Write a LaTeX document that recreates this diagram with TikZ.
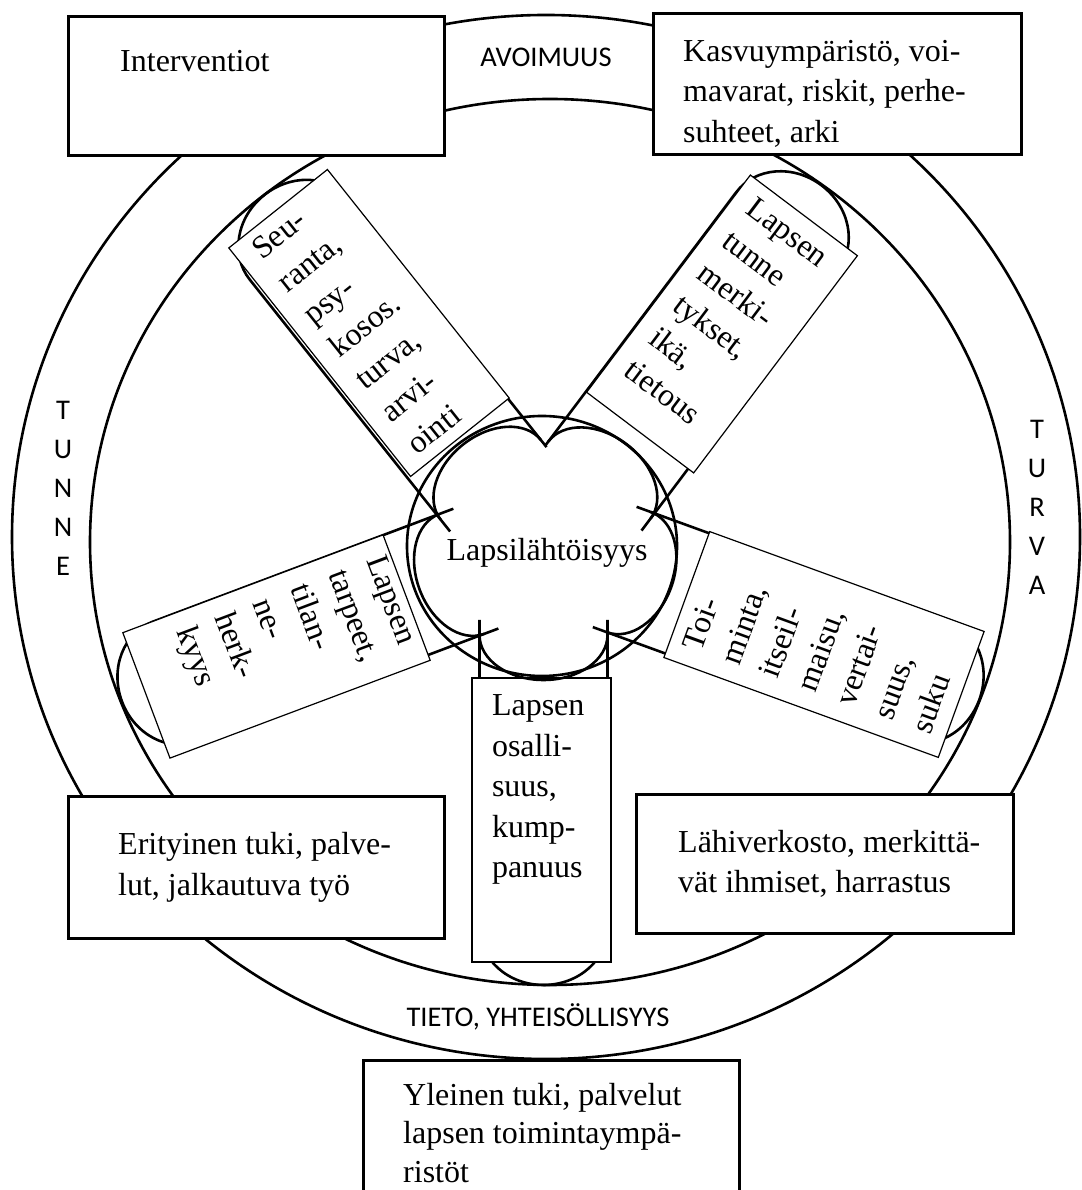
\documentclass[tikz,border=0pt]{standalone}
\usepackage{fontspec}
\setmainfont{Liberation Serif}
\newfontfamily\capsfont{Carlito}
\usetikzlibrary{calc}
\begin{document}
\begin{tikzpicture}[x=1pt, y=1pt,
  ring/.style={line width=2.6pt},
  infobox/.style={draw, line width=2.6pt, fill=white, inner sep=0pt, anchor=north west},
  spokebox/.style={draw, line width=1.2pt, fill=white, inner sep=0pt},
  txt/.style={inner sep=0pt, align=left, font=\fontsize{32}{40.5}\selectfont},
  spoketext/.style={txt, text width=#1pt, anchor=north},
  caps/.style={inner sep=0pt, align=center, font=\capsfont\fontsize{28.5}{39}\selectfont}]
\useasboundingbox (0,0) rectangle (1081,1190);
\draw[ring] (546,653) ellipse [x radius=534, y radius=522];
\draw[ring] (550,648) ellipse [x radius=460, y radius=443];
\coordinate (mid) at (545,642);
\foreach \a/\d/\sl/\sr/\o in {270/437/72/72/-1.5, 340/460/72/72/6, 53/456/82/72/-2.6, 128.5/451/72/78/0, 200.6/450/72/72/-5}
  \draw[ring, shift={(mid)}, rotate=\a] (\sl,64+\o) -- (\d-57,64+\o)
    arc[start angle=90, end angle=-90, x radius=57, y radius=64] -- (\sr,-64+\o);
\node[spokebox, rotate=38.5, minimum width=126pt, minimum height=292pt] (seuranta) at (369,867) {};
\node[spokebox, rotate=-37, minimum width=134pt, minimum height=272pt] (merkit) at (722,866) {};
\node[spokebox, rotate=-69.4, minimum width=134pt, minimum height=278pt] (tarpeet) at (276.5,543.5) {};
\node[spokebox, rotate=70, minimum width=134pt, minimum height=292pt] (toiminta) at (824,545.5) {};
\node[spokebox, minimum width=139pt, minimum height=284pt] (osallisuus) at (541.5,370) {};
\node[spoketext=90, rotate=38.5, font=\fontsize{32}{41.5}\selectfont] at ($(seuranta.north)!10pt!(seuranta.south)$) {Seu-\\ranta,\\psy-\\kosos.\\turva,\\arvi-\\ointi};
\node[spoketext=98, rotate=-37] at ($(merkit.north)!13pt!(merkit.south)$) {Lapsen\\tunne\\merki-\\tykset,\\ikä,\\tietous};
\node[spoketext=98, rotate=-69.4] at ($(tarpeet.north)!4pt!(tarpeet.south)$) {Lapsen\\tarpeet,\\tilan-\\ne-\\herk-\\kyys};
\node[spoketext=98, rotate=70] at ($(toiminta.north)!13pt!(toiminta.south)$) {Toi-\\minta,\\itseil-\\maisu,\\vertai-\\suus,\\suku};
\node[spoketext=99] at ($(osallisuus.north)!17pt!(osallisuus.south)$) {Lapsen\\osalli-\\suus,\\kump-\\panuus};
\foreach \a/\o in {270/-1.5, 340/6, 53/-2.6, 128.5/0, 200.6/-5}
  \draw[ring, shift={(mid)}, rotate=\a] (87,64+\o) arc[start angle=90, end angle=-90, x radius=45, y radius=64];
\draw[ring] (542,644) ellipse [x radius=135, y radius=130];
\node[txt] (lapsi) at (547,637) {Lapsilähtöisyys};
\node[infobox, minimum width=376pt, minimum height=139pt] (interv) at (67,1175) {};
\node[txt, anchor=north west] at ($(interv.north west)+(53,-35)$) {Interventiot};
\node[infobox, minimum width=368pt, minimum height=141pt] (kasvu) at (652,1178) {};
\node[txt, anchor=north west] at ($(kasvu.north west)+(31,-28)$) {Kasvuympäristö, voi-\\mavarat, riskit, perhe-\\suhteet, arki};
\node[infobox, minimum width=376pt, minimum height=142pt] (erityinen) at (67,395) {};
\node[txt, anchor=west] at ($(erityinen.west)+(51,0)$) {Erityinen tuki, palve-\\lut, jalkautuva työ};
\node[infobox, minimum width=377pt, minimum height=139pt] (lahi) at (635,397) {};
\node[txt, anchor=west] at ($(lahi.west)+(43,0)$) {Lähiverkosto, merkittä-\\vät ihmiset, harrastus};
\node[infobox, minimum width=376pt, minimum height=146pt] (yleinen) at (362,131) {};
\node[txt, anchor=north west, font=\fontsize{32}{38.5}\selectfont] at ($(yleinen.north west)+(41,-24)$) {Yleinen tuki, palvelut\\lapsen toimintaympä-\\ristöt};
\node[caps] (avoimuus) at (546,1133) {AVOIMUUS};
\node[caps] (tunne) at (63,701.5) {T\\U\\N\\N\\E};
\node[caps] (turva) at (1037,683) {T\\U\\R\\V\\A};
\node[caps] (tieto) at (538,173) {TIETO, YHTEISÖLLISYYS};
\end{tikzpicture}
\end{document}
